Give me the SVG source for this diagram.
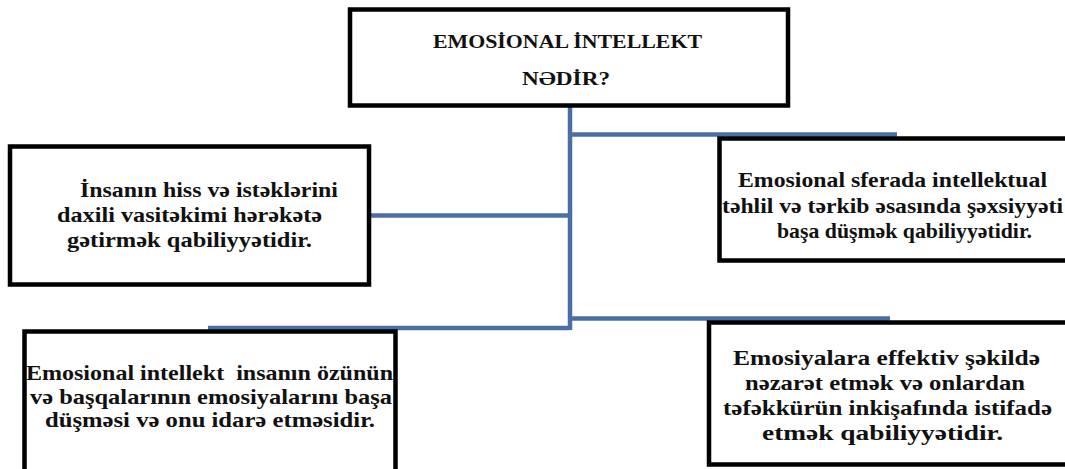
<svg xmlns="http://www.w3.org/2000/svg" width="1065" height="469" viewBox="0 0 1065 469" font-family="Liberation Serif, DejaVu Serif, serif">
<style>
.box{fill:#fff;stroke:#000;stroke-width:4.5}
.t{font-weight:bold;font-size:21px;fill:#111;text-anchor:middle}
.h{font-size:19px}
.c{fill:none;stroke:#4a6fa5;stroke-width:4.5;stroke-linecap:butt}
</style>
<rect width="1065" height="469" fill="#fff"/>
<g id="connectors">
<line class="c" x1="570" y1="106" x2="570" y2="330"/>
<line class="c" x1="568" y1="134.5" x2="897" y2="134.5"/>
<line class="c" x1="369" y1="215.5" x2="572" y2="215.5"/>
<path class="c" d="M208 328 H570"/>
<line class="c" x1="568" y1="318.5" x2="890" y2="318.5"/>
</g>
<g id="top">
<rect class="box" x="350" y="9.5" width="438" height="96"/>
<text class="t h" x="567.5" y="48" textLength="269" lengthAdjust="spacingAndGlyphs">EMOSİONAL İNTELLEKT</text>
<text class="t h" x="566" y="85" textLength="88" lengthAdjust="spacingAndGlyphs">NƏDİR?</text>
</g>
<g id="left">
<rect class="box" x="10" y="146.5" width="359" height="138"/>
<text class="t" x="209" y="197" textLength="258" lengthAdjust="spacingAndGlyphs">İnsanın hiss və istəklərini</text>
<text class="t" x="189.5" y="222" textLength="265" lengthAdjust="spacingAndGlyphs">daxili vasitəkimi hərəkətə</text>
<text class="t" x="189.5" y="247" textLength="245" lengthAdjust="spacingAndGlyphs">gətirmək qabiliyyətidir.</text>
</g>
<g id="right">
<rect class="box" x="719.5" y="138.5" width="350" height="122"/>
<text class="t" x="892.5" y="187" textLength="309" lengthAdjust="spacingAndGlyphs">Emosional sferada intellektual</text>
<text class="t" x="892.5" y="213" textLength="341" lengthAdjust="spacingAndGlyphs">təhlil və tərkib  əsasında şəxsiyyəti</text>
<text class="t" x="904.5" y="238" textLength="255" lengthAdjust="spacingAndGlyphs">başa düşmək qabiliyyətidir.</text>
</g>
<g id="bottom-left">
<rect class="box" x="24.5" y="331.5" width="371" height="145"/>
<text class="t" x="209.5" y="380" textLength="367" lengthAdjust="spacingAndGlyphs" xml:space="preserve">Emosional intellekt  insanın özünün</text>
<text class="t" x="211" y="404" textLength="362" lengthAdjust="spacingAndGlyphs">və başqalarının emosiyalarını başa</text>
<text class="t" x="210" y="427" textLength="330" lengthAdjust="spacingAndGlyphs">düşməsi və onu idarə etməsidir.</text>
</g>
<g id="bottom-right">
<rect class="box" x="709" y="322.5" width="360" height="142"/>
<text class="t" x="886.5" y="365" textLength="307" lengthAdjust="spacingAndGlyphs">Emosiyalara effektiv şəkildə</text>
<text class="t" x="885" y="390" textLength="280" lengthAdjust="spacingAndGlyphs">nəzarət etmək və onlardan</text>
<text class="t" x="887.5" y="415" textLength="329" lengthAdjust="spacingAndGlyphs">təfəkkürün inkişafında istifadə</text>
<text class="t" x="882.5" y="440" textLength="241" lengthAdjust="spacingAndGlyphs">etmək qabiliyyətidir.</text>
</g>
</svg>
